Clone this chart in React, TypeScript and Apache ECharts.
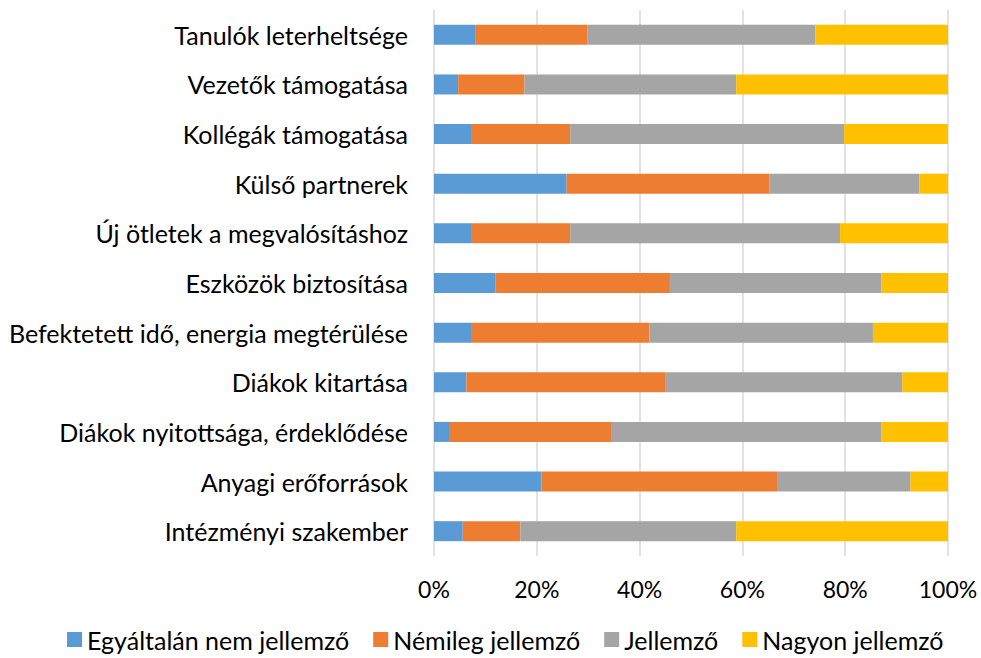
import React, { useEffect, useRef } from "react";
import * as echarts from "echarts";

const categories = [
  "Tanulók leterheltsége",
  "Vezetők támogatása",
  "Kollégák támogatása",
  "Külső partnerek",
  "Új ötletek a megvalósításhoz",
  "Eszközök biztosítása",
  "Befektetett idő, energia megtérülése",
  "Diákok kitartása",
  "Diákok nyitottsága, érdeklődése",
  "Anyagi erőforrások",
  "Intézményi szakember",
];

const seriesNames = [
  "Egyáltalán nem jellemző",
  "Némileg jellemző",
  "Jellemző",
  "Nagyon jellemző",
];

const egyaltalanNem = [8.0, 4.7, 7.2, 25.8, 7.2, 12.0, 7.2, 6.3, 3.1, 20.9, 5.6];
const nemileg = [21.8, 12.9, 19.3, 39.5, 19.3, 33.9, 34.7, 38.8, 31.5, 46.0, 11.2];
const jellemzo = [44.4, 41.2, 53.3, 29.1, 52.5, 41.1, 43.5, 46.0, 52.4, 25.8, 42.0];
const nagyon = [25.8, 41.2, 20.2, 5.6, 21.0, 13.0, 14.6, 8.9, 13.0, 7.3, 41.2];

const xTicks = [0, 20, 40, 60, 80, 100];

const colors = ["#5B9BD5", "#ED7D31", "#A5A5A5", "#FFC000"];
const FONT = "Lato, 'Open Sans', sans-serif";

export default function App() {
  const ref = useRef<HTMLDivElement>(null);

  useEffect(() => {
    document.body.style.margin = "0";
    if (!ref.current) return;
    const chart = echarts.init(ref.current, undefined, { renderer: "svg" });
    const values = [egyaltalanNem, nemileg, jellemzo, nagyon];
    chart.setOption({
      animation: false,
      textStyle: { fontFamily: FONT },
      grid: { left: 434, right: 33, top: 10, bottom: 102 },
      legend: {
        left: 62,
        top: 622,
        icon: "rect",
        itemWidth: 15,
        itemHeight: 15,
        itemGap: 24,
        textStyle: { fontFamily: FONT, fontSize: 25, color: "#000" },
        data: seriesNames,
      },
      xAxis: {
        type: "value",
        min: xTicks[0],
        max: xTicks[xTicks.length - 1],
        interval: xTicks[1] - xTicks[0],
        axisLine: { show: false },
        axisTick: { show: false },
        splitLine: { show: true, lineStyle: { color: "#d9d9d9", width: 1.5 } },
        axisLabel: {
          formatter: "{value}%",
          fontFamily: FONT,
          fontSize: 23,
          color: "#000",
          margin: 21,
        },
      },
      yAxis: {
        type: "category",
        inverse: true,
        data: categories,
        axisLine: { show: false },
        axisTick: { show: false },
        axisLabel: {
          fontFamily: FONT,
          fontSize: 25,
          color: "#000",
          margin: 26,
        },
      },
      series: seriesNames.map((name, i) => ({
        name,
        type: "bar",
        stack: "total",
        barWidth: 20,
        itemStyle: { color: colors[i] },
        data: values[i],
      })),
    });
    return () => chart.dispose();
  }, []);

  return <div ref={ref} style={{ width: 981, height: 658 }} />;
}
